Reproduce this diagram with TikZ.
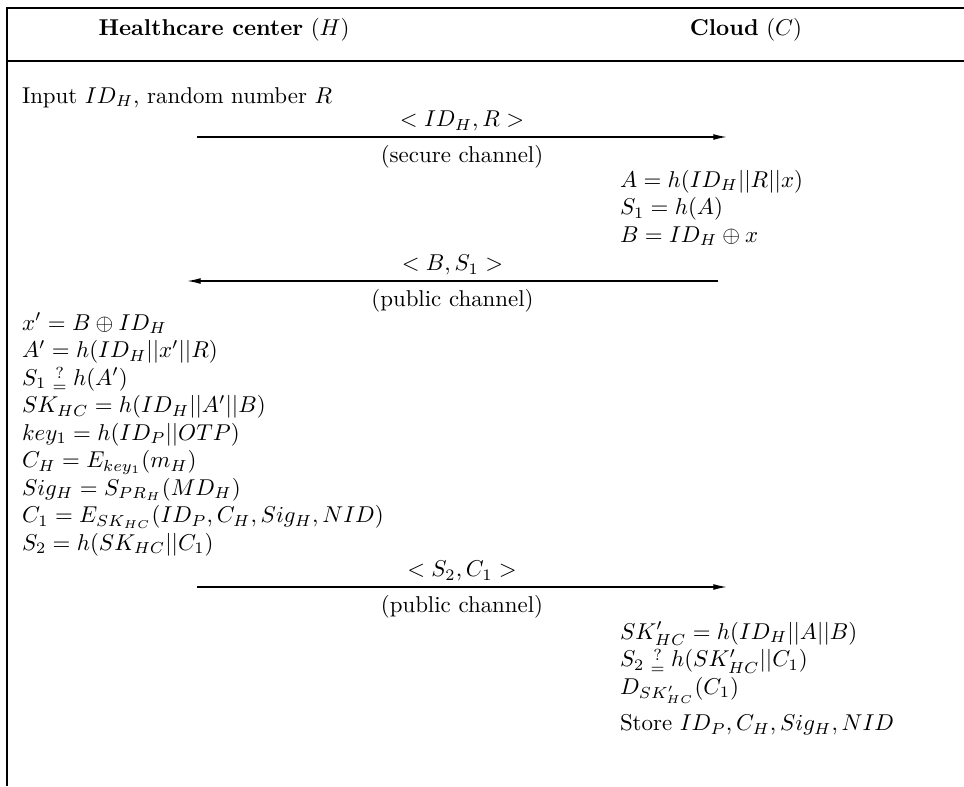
\documentclass[tikz,border=0pt]{standalone}
\usepackage{amsmath}
\usetikzlibrary{arrows.meta}

\begin{document}
\begin{tikzpicture}[
            x = 0.4367pt, y = -0.4367pt,
            every node/.style={inner sep=0pt, outer sep=0pt},
            frame/.style={line width = .8pt},
            msg/.style={line width = .6pt, -{Latex[length=6pt, width=2.6pt]}},
            steps/.style={anchor=north west, align=left},
            ]
        \useasboundingbox (0,0) rectangle (964,786);

        \draw[frame] (964,8) -- (7,8) -- (7,786);
        \draw[line width = 1.3pt] (6,61) -- (964,61);

        \node[anchor=base] (hc) at (224,35) {\textbf{Healthcare center} $(H)$};
        \node[anchor=base] (cl) at (746,35) {\textbf{Cloud} $(C)$};

        \node[anchor=base west] (hc0) at (22,103) {Input $ID_H$, random number $R$};

        \coordinate (s1) at (197,137);
        \coordinate (e1) at (727,137);
        \draw[msg] (s1) -- (e1)
            node[midway, above=2.5pt] (l1) {$<ID_H, R>$}
            node[midway, below=3.5pt] (c1) {(secure channel)};

        \node[steps] (cl1) at (620,170) {$A = h(ID_H||R||x)$\\ $S_1 = h(A)$\\ $B = ID_H \oplus x$};

        \coordinate (s2) at (718,281);
        \coordinate (e2) at (187,281);
        \draw[msg] (s2) -- (e2)
            node[midway, above=2.5pt] (l2) {$<B, S_1>$}
            node[midway, below=3.5pt] (c2) {(public channel)};

        \node[steps] (hc1) at (22,313) {$x' = B \oplus ID_H$\\
            $A' = h(ID_H||x'||R)$\\
            $S_1 \mathrel{\substack{?\\=}} h(A')$\\
            $SK_{HC} = h(ID_H||A'||B)$\\
            $key_1 = h(ID_P||OTP)$\\
            $C_H = E_{key_1}(m_H)$\\
            $Sig_H = S_{PR_H}(MD_H)$\\
            $C_1 = E_{SK_{HC}}(ID_P, C_H, Sig_H, NID)$\\
            $S_2 = h(SK_{HC}||C_1)$};

        \coordinate (s3) at (197,587);
        \coordinate (e3) at (727,587);
        \draw[msg] (s3) -- (e3)
            node[midway, above=2.5pt] (l3) {$<S_2, C_1>$}
            node[midway, below=3.5pt] (c3) {(public channel)};

        \node[steps] (cl2) at (620,622) {$SK'_{HC} = h(ID_H||A||B)$\\
            $S_2 \mathrel{\substack{?\\=}} h(SK'_{HC}||C_1)$\\
            $D_{SK'_{HC}}(C_1)$\\[4pt]
            Store $ID_P, C_H, Sig_H, NID$};
    \end{tikzpicture}
\end{document}
